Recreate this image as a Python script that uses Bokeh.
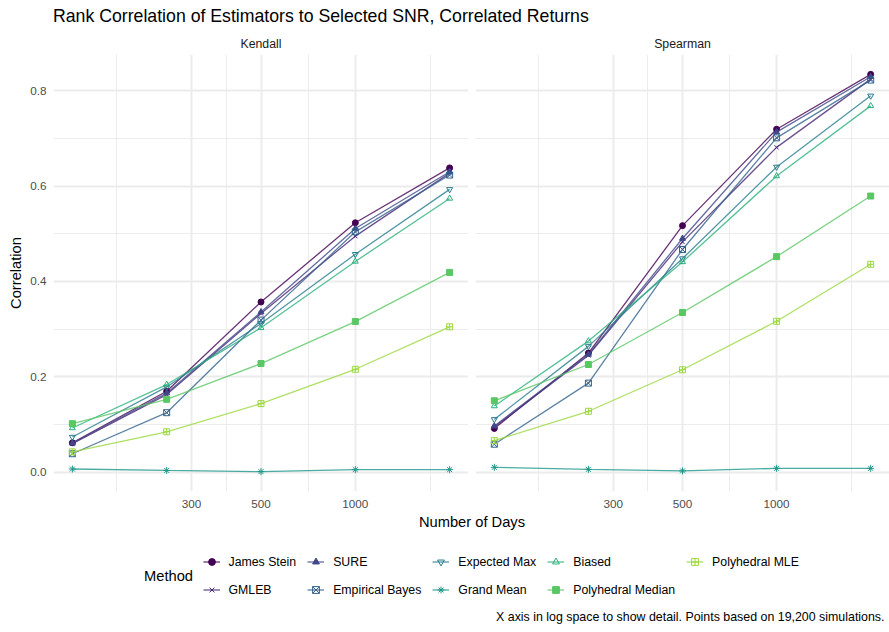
import math
from bokeh.plotting import figure
from bokeh.models import FixedTicker, Range1d, Label, Legend, LegendItem, ColumnDataSource
from bokeh.layouts import column, row
from bokeh.palettes import Viridis256
from bokeh.embed import file_html
from bokeh.resources import INLINE

# ---------------- data ----------------
days = [125, 250, 500, 1000, 2000]
methods = ["James Stein", "GMLEB", "SURE", "Empirical Bayes", "Expected Max",
           "Grand Mean", "Biased", "Polyhedral Median", "Polyhedral MLE"]

kendall_james_stein = [0.062, 0.170, 0.357, 0.523, 0.638]
kendall_gmleb = [0.060, 0.163, 0.333, 0.495, 0.627]
kendall_sure = [0.061, 0.166, 0.336, 0.511, 0.630]
kendall_empirical_bayes = [0.039, 0.125, 0.319, 0.504, 0.623]
kendall_expected_max = [0.074, 0.179, 0.312, 0.457, 0.593]
kendall_grand_mean = [0.007, 0.004, 0.0015, 0.0057, 0.0057]
kendall_biased = [0.093, 0.184, 0.303, 0.442, 0.574]
kendall_poly_median = [0.102, 0.153, 0.228, 0.316, 0.419]
kendall_poly_mle = [0.043, 0.085, 0.144, 0.216, 0.305]

spearman_james_stein = [0.092, 0.250, 0.517, 0.719, 0.834]
spearman_gmleb = [0.095, 0.245, 0.483, 0.681, 0.824]
spearman_sure = [0.097, 0.247, 0.490, 0.713, 0.829]
spearman_empirical_bayes = [0.059, 0.187, 0.467, 0.701, 0.822]
spearman_expected_max = [0.111, 0.264, 0.448, 0.640, 0.789]
spearman_grand_mean = [0.0105, 0.0063, 0.003, 0.0084, 0.0084]
spearman_biased = [0.139, 0.275, 0.441, 0.621, 0.768]
spearman_poly_median = [0.150, 0.226, 0.335, 0.452, 0.579]
spearman_poly_mle = [0.0665, 0.128, 0.215, 0.3166, 0.436]

x_breaks = [100, 300, 500, 1000, 3000]
x_tick_labels = ["100", "300", "500", "1000", "3000"]
y_breaks = [0.0, 0.2, 0.4, 0.6, 0.8]
y_minor = [0.1, 0.3, 0.5, 0.7]
y_tick_labels = ["0.0", "0.2", "0.4", "0.6", "0.8"]

title_text = "Rank Correlation of Estimators to Selected SNR, Correlated Returns"
caption_text = "X axis in log space to show detail. Points based on 19,200 simulations."

kendall = [kendall_james_stein, kendall_gmleb, kendall_sure, kendall_empirical_bayes,
           kendall_expected_max, kendall_grand_mean, kendall_biased,
           kendall_poly_median, kendall_poly_mle]
spearman = [spearman_james_stein, spearman_gmleb, spearman_sure, spearman_empirical_bayes,
            spearman_expected_max, spearman_grand_mean, spearman_biased,
            spearman_poly_median, spearman_poly_mle]

# ---------------- style ----------------
FONT = "Liberation Sans"
colors = [Viridis256[int(round(i / 8 * 0.85 * 255))] for i in range(9)]
markers = ["circle", "x", "triangle", "square_x", "inverted_triangle",
           "asterisk", "triangle", "square", "square_cross"]
filled = [True, False, True, False, False, False, False, True, False]
msize = [6, 6, 6, 6, 6, 7, 6, 6, 6]
GRID = "#EBEBEB"
LW = 1.3
LA = 0.8

# ranges (5% expansion, like ggplot)
lx0, lx1 = math.log10(min(days)), math.log10(max(days))
ex = 0.05 * (lx1 - lx0)
x_lo, x_hi = 10 ** (lx0 - ex), 10 ** (lx1 + ex)
all_y = [v for s in kendall + spearman for v in s]
y0, y1 = min(all_y), max(all_y)
ey = 0.05 * (y1 - y0)
y_lo, y_hi = y0 - ey, y1 + ey

x_minor = [math.sqrt(a * b) for a, b in zip(x_breaks[:-1], x_breaks[1:])]

TOP_H = 28
PANEL_H = 485


def make_panel(name, series, width, left_border, show_y):
    p = figure(width=width, height=PANEL_H, x_axis_type="log",
               x_range=Range1d(x_lo, x_hi), y_range=Range1d(y_lo, y_hi),
               output_backend="svg", toolbar_location=None,
               y_axis_location="left" if show_y else None,
               min_border_left=left_border, min_border_right=0,
               min_border_top=26, min_border_bottom=22)
    p.outline_line_color = None
    p.title.text = name
    p.title.align = "center"
    p.title.text_font = FONT
    p.title.text_font_size = "12.3px"
    p.title.text_font_style = "normal"
    p.title.text_color = "#1A1A1A"
    p.title.standoff = 8

    xt = FixedTicker(ticks=x_breaks, minor_ticks=x_minor)
    p.xaxis.ticker = xt
    p.xgrid.ticker = xt
    p.xaxis.major_label_overrides = {b: l for b, l in zip(x_breaks, x_tick_labels)}
    yt = FixedTicker(ticks=y_breaks, minor_ticks=y_minor)
    p.ygrid.ticker = yt
    for g in (p.xgrid, p.ygrid):
        g.grid_line_color = GRID
        g.grid_line_width = 1.9
        g.minor_grid_line_color = GRID
        g.minor_grid_line_width = 0.95

    axes = [p.xaxis[0]]
    if show_y:
        p.yaxis.ticker = yt
        p.yaxis.major_label_overrides = {b: l for b, l in zip(y_breaks, y_tick_labels)}
        p.yaxis.axis_label = "Correlation"
        p.yaxis.axis_label_text_font = FONT
        p.yaxis.axis_label_text_font_size = "14.7px"
        p.yaxis.axis_label_text_font_style = "normal"
        p.yaxis.axis_label_text_color = "#000000"
        p.yaxis.axis_label_standoff = 3
        p.yaxis.major_label_standoff = 7
        axes.append(p.yaxis[0])
    p.xaxis.major_label_standoff = 8
    for ax in axes:
        ax.axis_line_color = None
        ax.major_tick_line_color = None
        ax.minor_tick_line_color = None
        ax.major_tick_out = 0
        ax.major_tick_in = 0
        ax.minor_tick_out = 0
        ax.minor_tick_in = 0
        ax.major_label_text_font = FONT
        ax.major_label_text_font_size = "11.7px"
        ax.major_label_text_color = "#4D4D4D"

    for i, m in enumerate(methods):
        src = ColumnDataSource(dict(x=days, y=series[i]))
        p.line("x", "y", source=src, line_color=colors[i], line_width=LW, line_alpha=LA)
        p.scatter("x", "y", source=src, marker=markers[i], size=msize[i],
                  line_color=colors[i], line_width=1,
                  fill_color=colors[i] if filled[i] else None)
    return p


p1 = make_panel("Kendall", kendall, 468, 53, True)
p2 = make_panel("Spearman", spearman, 421, 7, False)


def blank(height):
    f = figure(width=889, height=height, x_range=Range1d(0, 1), y_range=Range1d(0, 1),
               output_backend="svg", toolbar_location=None,
               x_axis_location=None, y_axis_location=None,
               min_border=0, min_border_left=0, min_border_right=0,
               min_border_top=0, min_border_bottom=0)
    f.outline_line_color = None
    f.grid.visible = False
    return f


# ---------------- header ----------------
top = blank(TOP_H)
top.add_layout(Label(x=52.5, y=13, x_units="screen", y_units="screen", text=title_text,
                     text_font=FONT, text_font_size="17.7px", text_color="#000000",
                     text_baseline="alphabetic"))

# ---------------- footer (x label, legend, caption) ----------------
bot = blank(632 - TOP_H - PANEL_H)
bot.add_layout(Label(x=471.5, y=111, x_units="screen", y_units="screen",
                     text="Number of Days",
                     text_font=FONT, text_font_size="14.7px", text_color="#000000",
                     text_align="center", text_baseline="alphabetic"))
bot.add_layout(Label(x=143.5, y=57, x_units="screen", y_units="screen", text="Method",
                     text_font=FONT, text_font_size="14.7px", text_color="#000000",
                     text_align="left", text_baseline="alphabetic"))
bot.add_layout(Label(x=884, y=15.5, x_units="screen", y_units="screen", text=caption_text,
                     text_font=FONT, text_font_size="12.4px", text_color="#000000",
                     text_align="right", text_baseline="alphabetic"))

items = []
for i, m in enumerate(methods):
    # same data as the panels; the footer's ranges keep these marks out of view
    src = ColumnDataSource(dict(x=days, y=kendall[i]))
    rl = bot.line("x", "y", source=src, line_color=colors[i], line_width=LW, line_alpha=LA)
    rp = bot.scatter("x", "y", source=src, marker=markers[i], size=msize[i],
                     line_color=colors[i], line_width=1,
                     fill_color=colors[i] if filled[i] else None)
    items.append(LegendItem(label=m, renderers=[rl, rp]))

legend = Legend(items=items, orientation="vertical", nrows=2,
                location=(202.5, 33.8), glyph_width=17, glyph_height=17, label_height=17,
                label_standoff=9, spacing=11, padding=0, margin=0,
                border_line_color=None, background_fill_alpha=0,
                label_text_font=FONT, label_text_font_size="12.3px",
                label_text_color="#000000")
bot.add_layout(legend)

layout = column(top, row(p1, p2), bot)
open("out.html", "w").write(file_html(layout, INLINE))
